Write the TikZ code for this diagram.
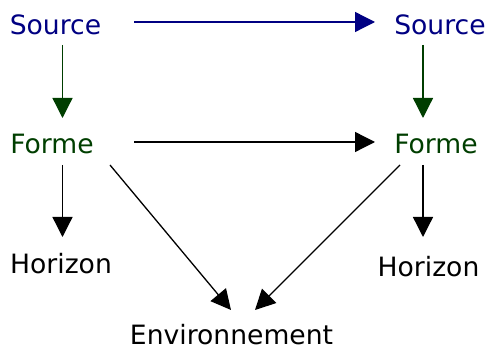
\documentclass[tikz,border=0pt]{standalone}
\usepackage{fontspec}
\setmainfont{DejaVu Sans}
\usetikzlibrary{arrows.meta}
\definecolor{srcblue}{RGB}{0,0,130}
\definecolor{formgreen}{RGB}{0,62,0}
\tikzset{
  lbl/.style={anchor=base, inner sep=0pt, font=\fontsize{26.6}{30}\selectfont},
  conn/.style={line width=1.3pt, -{Triangle[length=20pt,width=20pt]}},
}
\begin{document}
\begin{tikzpicture}[x=1pt,y=-1pt]
\useasboundingbox (0,0) rectangle (488,347);
\node[lbl, text=srcblue] (sL) at (55.5,35) {Source};
\node[lbl, text=srcblue] (sR) at (440,35) {Source};
\node[lbl, text=formgreen] (fL) at (52,154) {Forme};
\node[lbl, text=formgreen] (fR) at (436,154) {Forme};
\node[lbl] (hL) at (61,274) {Horizon};
\node[lbl] (hR) at (428.5,276.5) {Horizon};
\node[lbl] (env) at (231.5,344.5) {Environnement};

\draw[conn, srcblue] ([shift={(78.5,-13)}]sL.base) -- ([shift={(-65,-13)}]sR.base);
\draw[conn, formgreen] ([shift={(7,10)}]sL.base) -- ([shift={(10.5,-36)}]fL.base);
\draw[conn, formgreen] ([shift={(-17,10)}]sR.base) -- ([shift={(-13,-36)}]fR.base);
\draw[conn] ([shift={(82,-12)}]fL.base) -- ([shift={(-61,-12)}]fR.base);
\draw[conn] ([shift={(10.5,11)}]fL.base) -- ([shift={(1.5,-37)}]hL.base);
\draw[conn] ([shift={(-13,11)}]fR.base) -- ([shift={(-5.5,-39.5)}]hR.base);
\draw[conn] ([shift={(58,11)}]fL.base) -- ([shift={(-0.5,-34.5)}]env.base);
\draw[conn] ([shift={(-36,11)}]fR.base) -- ([shift={(23.5,-34.5)}]env.base);
\end{tikzpicture}
\end{document}
